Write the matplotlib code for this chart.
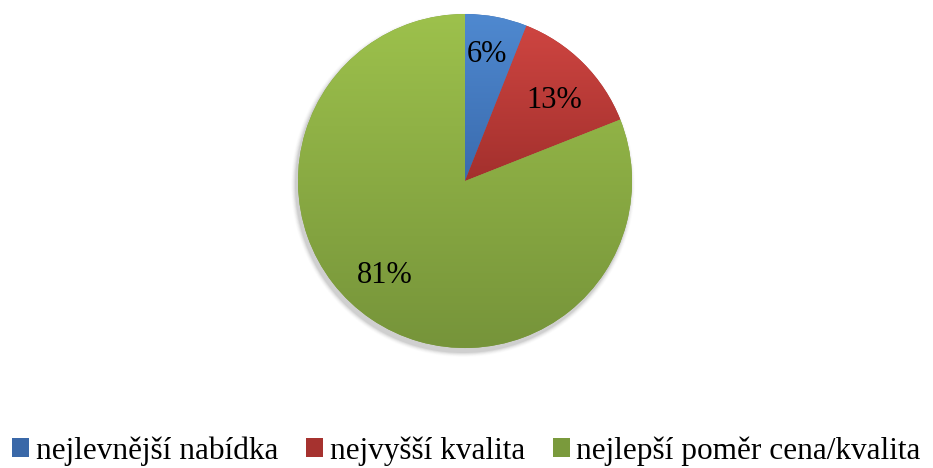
import numpy as np
import matplotlib
matplotlib.use("Agg")
import matplotlib.pyplot as plt
from matplotlib.colors import LinearSegmentedColormap

categories = ["nejlevnější nabídka", "nejvyšší kvalita", "nejlepší poměr cena/kvalita"]
values = [6, 13, 81]
pct_labels = ["6%", "13%", "81%"]

base_colors = ["#3A68A8", "#A6322F", "#7A9A3C"]
top_colors = ["#4F89D0", "#CE4541", "#9DC14C"]
bottom_colors = ["#3A6BAE", "#A3302D", "#76943A"]

W, H = 933, 468
fig = plt.figure(figsize=(W / 100, H / 100), dpi=100)
ax = fig.add_axes([0, 0, 1, 1])
cx, cy, r = 465, H - 181, 167

# soft shadow
for i, a in enumerate(np.linspace(0.05, 0.012, 6)):
    sh = plt.Circle((cx - 2, cy - 4), r + 1 + i * 0.8, color="black", alpha=a, lw=0, zorder=0)
    ax.add_patch(sh)

wedges, _ = ax.pie(values, colors=base_colors, startangle=90, counterclock=False,
                   center=(cx, cy), radius=r, wedgeprops=dict(linewidth=0),
                   normalize=True)

for w, top, bot in zip(wedges, top_colors, bottom_colors):
    w.set_zorder(1)
    cmap = LinearSegmentedColormap.from_list("g", [bot, top])
    ext = w.get_path().get_extents()
    grad = np.linspace(0, 1, 256).reshape(-1, 1)
    im = ax.imshow(grad, cmap=cmap, origin="lower", aspect="auto",
                   extent=(ext.x0, ext.x1, ext.y0, ext.y1), zorder=2,
                   interpolation="bilinear")
    im.set_clip_path(w)

# percentage labels via wedge angles (radial distance, angular offset)
pctdist = [0.77, 0.72, 0.74]
angoff = [1.0, -3.0, -6.0]
for w, lab, d, off in zip(wedges, pct_labels, pctdist, angoff):
    ang = np.deg2rad((w.theta1 + w.theta2) / 2 + off)
    ax.text(cx + d * r * np.cos(ang), cy + d * r * np.sin(ang), lab,
            ha="center", va="center", fontsize=22, family="Liberation Serif",
            color="black", zorder=5)

ax.set_xlim(0, W)
ax.set_ylim(0, H)
ax.set_aspect("equal")
ax.axis("off")

leg = fig.legend(wedges, categories, loc="lower center", bbox_to_anchor=(0.5, -0.055),
                 ncol=3, frameon=False, prop={"family": "Liberation Serif", "size": 22.5},
                 handlelength=0.55, handleheight=0.55, handletextpad=0.2,
                 columnspacing=0.9)

fig.savefig("out.png", dpi=100, facecolor="white")
